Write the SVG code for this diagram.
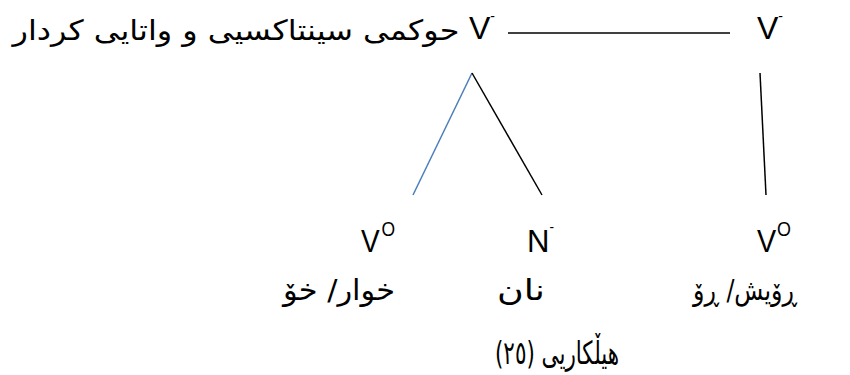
<svg xmlns="http://www.w3.org/2000/svg" width="850" height="375" viewBox="0 0 850 375">
<style>
.ar{font-family:"DejaVu Sans","Liberation Sans",sans-serif;font-size:28px;fill:#000;direction:rtl;text-anchor:middle}
.arb{font-family:"DejaVu Sans","Liberation Sans",sans-serif;font-size:29px;fill:#000;direction:rtl;text-anchor:middle}
.cap{font-size:32px}
.lat{font-family:"Liberation Sans",Arial,sans-serif;font-size:32px;fill:#000}
.sup{font-size:20px}
.dash{font-size:14px}
.edge{fill:none;stroke:#000;stroke-width:1.5}
.blue{stroke:#4a7ebb}
</style>
<rect width="850" height="375" fill="#fff"/>
<g id="connectors">
<line class="edge" x1="508" y1="33" x2="730" y2="33"/>
<line class="edge blue" x1="472" y1="73" x2="413" y2="195"/>
<line class="edge" x1="472" y1="73" x2="542" y2="195"/>
<line class="edge" x1="760" y1="73" x2="766" y2="195"/>
</g>
<g id="node-top-left">
<text class="ar" x="236" y="40" textLength="447" lengthAdjust="spacingAndGlyphs">حوکمی سینتاکسیی و واتایی کردار</text>
<text class="lat" x="469" y="39" textLength="26" lengthAdjust="spacingAndGlyphs">V<tspan class="dash" dy="-18">-</tspan></text>
</g>
<g id="node-top-right">
<text class="lat" x="757" y="39" textLength="26" lengthAdjust="spacingAndGlyphs">V<tspan class="dash" dy="-18">-</tspan></text>
</g>
<g id="node-v0-left">
<text class="lat" x="361" y="252" textLength="34" lengthAdjust="spacingAndGlyphs">V<tspan class="sup" dx="2" dy="-16">O</tspan></text>
<text class="arb" x="339" y="300" textLength="112" lengthAdjust="spacingAndGlyphs">خوار/ خۆ</text>
</g>
<g id="node-n">
<text class="lat" x="527" y="252" textLength="27" lengthAdjust="spacingAndGlyphs">N<tspan class="dash" dy="-20">-</tspan></text>
<text class="arb" x="521" y="300" textLength="48" lengthAdjust="spacingAndGlyphs">نان</text>
</g>
<g id="node-v0-right">
<text class="lat" x="757" y="252" textLength="34" lengthAdjust="spacingAndGlyphs">V<tspan class="sup" dx="1" dy="-16">O</tspan></text>
<text class="arb" x="745" y="300" textLength="104" lengthAdjust="spacingAndGlyphs">ڕۆیش/ ڕۆ</text>
</g>
<g id="caption">
<text class="arb cap" x="557" y="364" textLength="124" lengthAdjust="spacingAndGlyphs">هیڵکاریی (٢٥)</text>
</g>
</svg>
